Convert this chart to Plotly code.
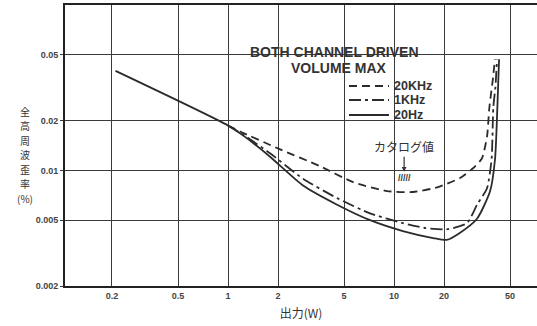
import math
import plotly.graph_objects as go

# ---- data ----
power_20hz = [0.21, 1.0, 1.26, 1.79, 2.83, 4.54, 7.17, 11.3, 17.2, 20.8, 25.0, 31.6, 37.9, 40.6, 41.9, 42.9]
thd_20hz = [0.040, 0.0187, 0.0160, 0.0121, 0.0081, 0.0062, 0.0050, 0.0043, 0.0039, 0.0038, 0.0042, 0.0051, 0.0075, 0.0118, 0.024, 0.047]

power_1khz = [1.0, 1.26, 1.79, 2.83, 4.54, 7.17, 11.3, 15.1, 20.7, 27.5, 31.6, 36.3, 38.7, 39.6, 40.8, 41.7]
thd_1khz = [0.0187, 0.0162, 0.0127, 0.0089, 0.0068, 0.0055, 0.0048, 0.0045, 0.0044, 0.0048, 0.0062, 0.0078, 0.0118, 0.024, 0.032, 0.047]

power_20khz = [1.0, 1.18, 2.06, 3.58, 5.66, 9.08, 13.0, 18.2, 25.0, 29.9, 33.8, 36.3, 37.5, 39.5, 40.5]
thd_20khz = [0.0187, 0.0172, 0.0134, 0.0106, 0.0085, 0.0075, 0.0074, 0.0079, 0.0090, 0.0103, 0.0118, 0.0160, 0.024, 0.0366, 0.047]

catalog_power = 11.5
catalog_thd = 0.0098

x_ticks = [0.2, 0.5, 1, 2, 5, 10, 20, 50]
x_tick_text = ["0.2", "0.5", "1", "2", "5", "10", "20", "50"]
y_ticks = [0.002, 0.005, 0.01, 0.02, 0.05]
y_tick_text = ["0.002", "0.005", "0.01", "0.02", "0.05"]

series_names = ["20KHz", "1KHz", "20Hz"]
y_title_chars = ["全", "高", "周", "波", "歪", "率", "(%)"]

INK = "#2b2b2b"
DASHES = ["8px,5px", "12px,4px,3px,4px", "solid"]

fig = go.Figure()
series = [(power_20khz, thd_20khz), (power_1khz, thd_1khz), (power_20hz, thd_20hz)]
for name, dash, (px, py) in zip(series_names, DASHES, series):
    fig.add_trace(go.Scatter(x=px, y=py, mode="lines", name=name, showlegend=False,
                             line=dict(color=INK, width=1.8, dash=dash, shape="spline", smoothing=0.6)))

tick_font = dict(family="Liberation Sans", size=9, color="#444444", weight="bold")

fig.update_layout(
    width=537, height=326,
    margin=dict(l=65, r=0, t=5, b=40),
    paper_bgcolor="white", plot_bgcolor="white",
    showlegend=False,
    xaxis=dict(type="log", range=[-0.982, 1.861],
               tickvals=x_ticks, ticktext=x_tick_text, tickfont=tick_font,
               showgrid=True, gridcolor="#3a3a3a", gridwidth=1.3,
               showline=True, linecolor="#222222", linewidth=2, mirror=True,
               ticks="", zeroline=False,
               title=dict(text="出力(W)", standoff=10,
                          font=dict(family="Noto Sans CJK JP", size=12, color="#333333"))),
    yaxis=dict(type="log", range=[math.log10(0.002), -1],
               tickvals=y_ticks, ticktext=y_tick_text, tickfont=tick_font,
               showgrid=True, gridcolor="#3a3a3a", gridwidth=1.3,
               showline=True, linecolor="#222222", linewidth=2, mirror=False,
               ticks="outside", ticklen=3, tickcolor="#3a3a3a", zeroline=False),
)

annot_font = dict(family="Liberation Sans", size=14, color="#333333", weight="bold")
fig.add_annotation(xref="paper", yref="paper", x=0.570, y=0.834, text="BOTH CHANNEL DRIVEN",
                   showarrow=False, font=annot_font, xanchor="center", yanchor="middle")
fig.add_annotation(xref="paper", yref="paper", x=0.5805, y=0.777, text="VOLUME MAX",
                   showarrow=False, font=annot_font, xanchor="center", yanchor="middle")

# hand-placed legend (line samples + labels), as in the original figure
legend_y = [0.7117, 0.6619, 0.6085]
for name, dash, ly in zip(series_names, DASHES, legend_y):
    fig.add_shape(type="line", xref="paper", yref="paper", x0=0.6017, x1=0.6864, y0=ly, y1=ly,
                  line=dict(color=INK, width=1.8, dash=dash))
    fig.add_annotation(xref="paper", yref="paper", x=0.6928, y=ly, text=name, showarrow=False,
                       xanchor="left", yanchor="middle",
                       font=dict(family="Liberation Sans", size=12.5, color="#333333", weight="bold"))

# y-axis title, characters stacked vertically
for i, ch in enumerate(y_title_chars):
    fig.add_annotation(xref="paper", yref="paper", x=-0.0847,
                       y=1 - (111 + i * 14.5 - 5) / 281, text=ch, showarrow=False,
                       font=dict(family="Noto Sans CJK JP", size=10, color="#333333"),
                       xanchor="center", yanchor="middle")

# catalog value marker
fig.add_annotation(x=math.log10(catalog_power), y=math.log10(catalog_thd), text="カタログ値",
                   showarrow=True, ax=0, ay=-25, arrowhead=2, arrowsize=0.8, arrowwidth=1.2,
                   arrowcolor="#333333",
                   font=dict(family="Noto Sans CJK JP", size=12, color="#333333"))
fig.add_annotation(x=math.log10(catalog_power), y=math.log10(catalog_thd), text="/////",
                   showarrow=False, yanchor="top", yshift=1,
                   font=dict(family="Liberation Sans", size=9, color="#333333", weight="bold"))

fig.write_html("out.html")
